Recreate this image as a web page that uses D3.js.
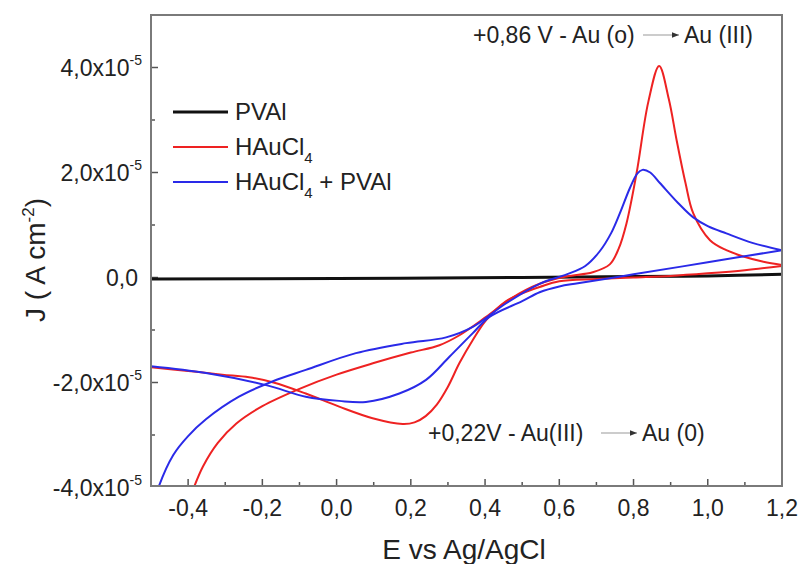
<!DOCTYPE html>
<html>
<head>
<meta charset="utf-8">
<script src="https://cdn.jsdelivr.net/npm/d3@7"></script>
<style>
  body { margin: 0; background: #fff; }
  text { font-family: "Liberation Sans", Arial, sans-serif; fill: #222; }
</style>
</head>
<body>
<div id="chart"></div>
<script>
// current density values are in units of 1e-5 A cm^-2
const pvalPts = [[-0.5, -0.03], [0.0, -0.02], [0.5, 0.0], [0.8, 0.02], [1.0, 0.03], [1.2, 0.06]];

const hauFwd = [[-0.40, -4.3], [-0.39, -4.1], [-0.36, -3.6], [-0.32, -3.15], [-0.27, -2.78], [-0.20, -2.45],
  [-0.10, -2.12], [0.0, -1.85], [0.10, -1.63], [0.20, -1.43], [0.277, -1.29], [0.331, -1.10], [0.403, -0.75],
  [0.47, -0.40], [0.547, -0.12], [0.62, 0.02], [0.69, 0.10], [0.736, 0.25], [0.76, 0.55], [0.781, 1.03],
  [0.808, 1.98], [0.84, 3.35], [0.869, 4.03], [0.895, 3.4], [0.916, 2.62], [0.94, 1.8], [0.961, 1.22],
  [1.006, 0.71], [1.05, 0.52], [1.096, 0.40], [1.15, 0.30], [1.2, 0.24]];
const hauRev = [[1.2, 0.22], [1.1, 0.14], [1.0, 0.08], [0.9, 0.03], [0.8, 0.0], [0.7, -0.03], [0.6, -0.07],
  [0.547, -0.18], [0.5, -0.3], [0.457, -0.45], [0.403, -0.81], [0.367, -1.19], [0.331, -1.63], [0.30, -2.08],
  [0.27, -2.42], [0.24, -2.64], [0.21, -2.76], [0.178, -2.79], [0.097, -2.68], [0.007, -2.46], [-0.083, -2.21],
  [-0.17, -2.0], [-0.236, -1.90], [-0.308, -1.85], [-0.4, -1.78], [-0.5, -1.71]];

const mixFwd = [[-0.50, -4.5], [-0.48, -4.0], [-0.44, -3.38], [-0.40, -3.02], [-0.352, -2.70], [-0.263, -2.27],
  [-0.173, -1.98], [-0.083, -1.76], [0.052, -1.44], [0.187, -1.25], [0.295, -1.14], [0.367, -0.94],
  [0.457, -0.49], [0.547, -0.12], [0.62, 0.06], [0.67, 0.22], [0.709, 0.50], [0.74, 0.85], [0.763, 1.22],
  [0.79, 1.70], [0.81, 1.98], [0.824, 2.05], [0.845, 2.0], [0.871, 1.80], [0.92, 1.42], [0.96, 1.15],
  [1.0, 0.98], [1.05, 0.84], [1.12, 0.66], [1.2, 0.52]];
const mixRev = [[1.2, 0.52], [1.0, 0.29], [0.8, 0.06], [0.65, -0.11], [0.6, -0.17], [0.547, -0.28], [0.5, -0.45],
  [0.412, -0.75], [0.367, -1.06], [0.304, -1.51], [0.241, -1.95], [0.169, -2.21], [0.079, -2.37],
  [0.007, -2.35], [-0.083, -2.27], [-0.19, -2.05], [-0.352, -1.82], [-0.5, -1.69]];

const xMajor = [-0.4, -0.2, 0.0, 0.2, 0.4, 0.6, 0.8, 1.0, 1.2];
const yMajor = [4, 2, 0, -2, -4];
const yTickText = ['4,0x10', '2,0x10', '0,0', '-2,0x10', '-4,0x10'];

const legendItems = [
  { name: 'PVAl', sub: '', rest: '', color: '#111' },
  { name: 'HAuCl', sub: '4', rest: '', color: '#ee2222' },
  { name: 'HAuCl', sub: '4', rest: ' + PVAl', color: '#2a2ae8' }
];

const W = 803, H = 564;
const pL = 151, pR = 782, pT = 15, pB = 486;

const svg = d3.select('#chart').append('svg')
    .attr('width', W)
    .attr('height', H);

const x = d3.scaleLinear().domain([-0.5, 1.2]).range([pL, pR]);
const y = d3.scaleLinear().domain([-4, 5]).range([pB + 1.5, pT]);

svg.append('clipPath').attr('id', 'plot')
  .append('rect')
    .attr('x', pL).attr('y', pT)
    .attr('width', pR - pL).attr('height', pB - pT);

// ticks, inward
const tickCol = '#555';
svg.append('g').selectAll('line')
  .data(d3.range(-4, 13).map(i => i / 10))
  .enter().append('line')
    .attr('x1', d => x(d)).attr('x2', d => x(d))
    .attr('y1', pB).attr('y2', d => pB - (xMajor.some(m => Math.abs(m - d) < 1e-6) ? 7 : 4))
    .attr('stroke', tickCol).attr('stroke-width', 1.5);
svg.append('g').selectAll('line')
  .data(d3.range(-3, 5))
  .enter().append('line')
    .attr('y1', d => y(d)).attr('y2', d => y(d))
    .attr('x1', pL).attr('x2', d => pL + (d % 2 === 0 ? 7 : 4))
    .attr('stroke', tickCol).attr('stroke-width', 1.5);

// x tick labels
svg.append('g').selectAll('text')
  .data(xMajor)
  .enter().append('text')
    .attr('x', d => x(d))
    .attr('y', 516)
    .attr('text-anchor', 'middle')
    .attr('font-size', 23)
    .text(d => d3.format('.1f')(d).replace('.', ',').replace('−', '-'));

// y tick labels
const yl = svg.append('g').selectAll('text')
  .data(yMajor)
  .enter().append('text')
    .attr('x', d => d === 0 ? 138 : 142)
    .attr('y', d => y(d) + 8)
    .attr('text-anchor', 'end')
    .attr('font-size', 23);
yl.append('tspan').text((d, i) => yTickText[i]);
yl.filter(d => d !== 0).append('tspan')
    .attr('dy', -11).attr('font-size', 14)
    .text('-5');

// curves
const line = d3.line()
    .x(d => x(d[0]))
    .y(d => y(d[1]))
    .curve(d3.curveCatmullRom.alpha(0.5));

const plot = svg.append('g').attr('clip-path', 'url(#plot)');
plot.append('path').datum(pvalPts)
    .attr('d', line).attr('fill', 'none').attr('stroke', '#111').attr('stroke-width', 3);
[hauFwd, hauRev].forEach(p => plot.append('path').datum(p)
    .attr('d', line).attr('fill', 'none').attr('stroke', '#ee2222').attr('stroke-width', 2));
[mixFwd, mixRev].forEach(p => plot.append('path').datum(p)
    .attr('d', line).attr('fill', 'none').attr('stroke', '#2a2ae8').attr('stroke-width', 2));

// frame
svg.append('rect')
    .attr('x', pL).attr('y', pT)
    .attr('width', pR - pL).attr('height', pB - pT)
    .attr('fill', 'none').attr('stroke', '#7a7a7a').attr('stroke-width', 2);

// legend
const lg = svg.append('g').selectAll('g')
  .data(legendItems)
  .enter().append('g')
    .attr('transform', (d, i) => `translate(0, ${112 + i * 35})`);
lg.append('line')
    .attr('x1', 173).attr('x2', 228)
    .attr('stroke', d => d.color).attr('stroke-width', (d, i) => i === 0 ? 3 : 2);
const lt = lg.append('text')
    .attr('x', 235).attr('y', 8)
    .attr('font-size', 24);
lt.append('tspan').text(d => d.name);
lt.append('tspan').attr('dy', 8).attr('font-size', 15).text(d => d.sub);
lt.append('tspan').attr('dy', -8).text(d => d.rest);

// annotations
svg.append('defs').append('marker')
    .attr('id', 'arr')
    .attr('viewBox', '0 0 10 10')
    .attr('refX', 10).attr('refY', 5)
    .attr('markerWidth', 7).attr('markerHeight', 7)
    .attr('orient', 'auto')
  .append('path').attr('d', 'M0,1 L10,5 L0,9 Z').attr('fill', '#333');

function note(x1, yb, t1, ax1, ax2, t2) {
  svg.append('text').attr('x', x1).attr('y', yb).attr('font-size', 23).text(t1);
  svg.append('line')
      .attr('x1', ax1).attr('x2', ax2)
      .attr('y1', yb - 8).attr('y2', yb - 8)
      .attr('stroke', '#999').attr('stroke-width', 1)
      .attr('marker-end', 'url(#arr)');
  svg.append('text').attr('x', ax2 + 5).attr('y', yb).attr('font-size', 23).text(t2);
}
note(473, 43, '+0,86 V - Au (o)', 643, 679, 'Au (III)');
note(428, 441, '+0,22V - Au(III)', 601, 637, 'Au (0)');

// axis titles
svg.append('text')
    .attr('x', 464).attr('y', 559)
    .attr('text-anchor', 'middle')
    .attr('font-size', 28)
    .text('E vs Ag/AgCl');

const yt = svg.append('text')
    .attr('transform', 'translate(45, 260) rotate(-90)')
    .attr('text-anchor', 'middle')
    .attr('font-size', 28);
yt.append('tspan').text('J ( A cm');
yt.append('tspan').attr('dy', -11).attr('font-size', 17).text('-2');
yt.append('tspan').attr('dy', 11).text(')');
</script>
</body>
</html>
